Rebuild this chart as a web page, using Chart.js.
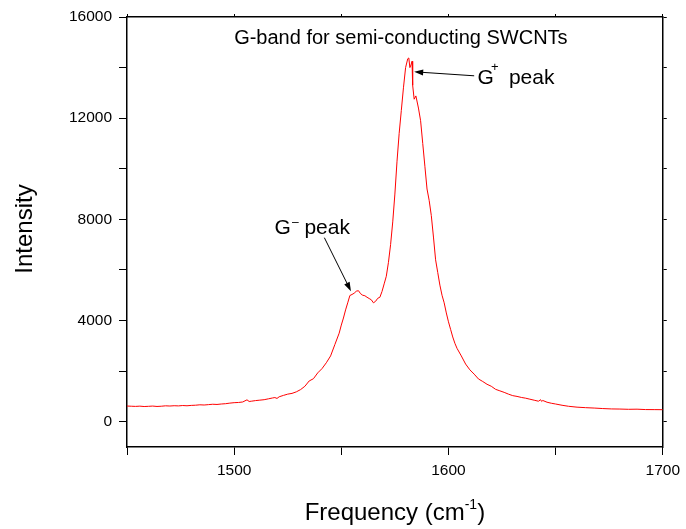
<!DOCTYPE html>
<html lang="en">
<head>
  <meta charset="UTF-8" />
  <title>G-band for semi-conducting SWCNTs</title>
  <script src="https://cdn.jsdelivr.net/npm/chart.js"></script>
  <style>
    html, body { margin: 0; padding: 0; background: #fff; }
    canvas { display: block; }
  </style>
</head>
<body>
  <canvas id="ramanChart" width="686" height="529"></canvas>

  <script>
    // Raman spectrum, G-band region
    const frequency = [
      1450, 1452, 1454, 1456, 1458, 1460, 1462, 1464, 1466, 1468,
      1470, 1472, 1474, 1476, 1478, 1480, 1482, 1484, 1486, 1488,
      1490, 1492, 1494, 1496, 1498, 1500, 1502, 1504, 1506, 1507,
      1508, 1510, 1512, 1514, 1516, 1518, 1519, 1520, 1521, 1523,
      1525, 1527, 1529, 1531, 1533, 1535, 1537, 1539, 1541, 1543,
      1545, 1547, 1549, 1550, 1551, 1552, 1553, 1554, 1555, 1556,
      1557, 1558, 1559, 1560, 1561, 1562, 1563, 1564, 1565, 1566,
      1567, 1568, 1569, 1570, 1571, 1572, 1573, 1574, 1575, 1576,
      1577, 1578, 1579, 1580, 1581, 1581.5, 1582, 1582.5, 1583, 1583.3,
      1584, 1584.8, 1586, 1587, 1588, 1589, 1590, 1591, 1592, 1593,
      1594, 1595, 1596, 1597, 1598, 1599, 1600, 1601, 1602, 1603,
      1604, 1606, 1608, 1610, 1612, 1614, 1616, 1618, 1620, 1622,
      1624, 1626, 1628, 1630, 1632, 1634, 1636, 1638, 1640, 1642,
      1643, 1643.5, 1644, 1646, 1648, 1650, 1653, 1656, 1660, 1664,
      1668, 1672, 1676, 1680, 1684, 1688, 1692, 1696, 1700
    ];
    const intensity = [
      620, 612, 605, 615, 600, 608, 618, 603, 612, 628,
      620, 632, 625, 640, 630, 645, 652, 668, 660, 675,
      690, 682, 700, 712, 735, 752, 760, 780, 865, 800,
      810, 835, 852, 870, 905, 940, 955, 920, 985, 1040,
      1090, 1120, 1180, 1270, 1400, 1610, 1700, 1930, 2100, 2330,
      2600, 3050, 3500, 3820, 4100, 4420, 4700, 4990, 5030, 5080,
      5160, 5180, 5060, 5000, 4980, 4920, 4870, 4820, 4700, 4760,
      4880, 4920, 5150, 5450, 5750, 6300, 7000, 7900, 9000, 10300,
      11400, 12300, 13200, 14000, 14350, 14380, 14000, 14100, 14250, 13300,
      12750, 12880, 12400, 11900, 11000, 10100, 9200, 8750, 8150, 7300,
      6400, 5900, 5400, 5000, 4700, 4300, 3950, 3650, 3350, 3100,
      2900, 2600, 2280, 2050, 1880, 1690, 1590, 1480, 1400, 1280,
      1220, 1160, 1090, 1030, 1000, 960, 930, 890, 850, 810,
      870, 800, 840, 770, 730, 700, 650, 610, 575, 555,
      540, 520, 505, 500, 490, 495, 480, 478, 475
    ];

    const xTickValues = [1450, 1500, 1550, 1600, 1650, 1700];
    const xLabelTicks = [1500, 1600, 1700];
    const yTickValues = [0, 2000, 4000, 6000, 8000, 10000, 12000, 14000, 16000];
    const yLabelTicks = [0, 4000, 8000, 12000, 16000];

    const FONT = "'Liberation Sans', Arial, sans-serif";

    const setXTicks = scale => { scale.ticks = xTickValues.map(v => ({ value: v })); };
    const setYTicks = scale => { scale.ticks = yTickValues.map(v => ({ value: v })); };

    function arrow(ctx, x1, y1, x2, y2) {
      const ang = Math.atan2(y2 - y1, x2 - x1);
      const len = 9, half = 3;
      ctx.beginPath();
      ctx.moveTo(x1, y1);
      ctx.lineTo(x2 - Math.cos(ang) * len * 0.8, y2 - Math.sin(ang) * len * 0.8);
      ctx.stroke();
      ctx.beginPath();
      ctx.moveTo(x2, y2);
      ctx.lineTo(x2 - Math.cos(ang) * len - Math.sin(ang) * half, y2 - Math.sin(ang) * len + Math.cos(ang) * half);
      ctx.lineTo(x2 - Math.cos(ang) * len + Math.sin(ang) * half, y2 - Math.sin(ang) * len - Math.cos(ang) * half);
      ctx.closePath();
      ctx.fill();
    }

    const labelsPlugin = {
      id: 'labels',
      afterDraw(chart) {
        const ctx = chart.ctx;
        const xs = chart.scales.x, ys = chart.scales.y;
        const px = v => xs.getPixelForValue(v);
        const py = v => ys.getPixelForValue(v);
        const area = chart.chartArea;

        ctx.save();
        ctx.fillStyle = '#000';
        ctx.strokeStyle = '#000';
        ctx.lineWidth = 1;
        ctx.textBaseline = 'alphabetic';
        ctx.textAlign = 'left';

        // title inside the frame
        ctx.font = '20px ' + FONT;
        ctx.fillText('G-band for semi-conducting SWCNTs', px(1500), py(14930));

        // G+ peak
        let x0 = px(1613.5), y0 = py(13347);
        ctx.font = '21px ' + FONT;
        ctx.fillText('G', x0, y0);
        ctx.font = '13px ' + FONT;
        ctx.fillText('+', x0 + 13.5, y0 - 13);
        ctx.font = '21px ' + FONT;
        ctx.fillText('peak', x0 + 31.5, y0);
        arrow(ctx, px(1612), py(13675), px(1584), py(13834));

        // G- peak
        x0 = px(1518.8); y0 = py(7406);
        ctx.font = '21px ' + FONT;
        ctx.fillText('G', x0, y0);
        ctx.font = '12px ' + FONT;
        ctx.fillText('\u2013', x0 + 17.5, y0 - 8);
        ctx.font = '21px ' + FONT;
        ctx.fillText('peak', x0 + 30, y0);
        arrow(ctx, px(1542.1), py(7275), px(1554.5), py(5160));

        // axis titles
        const main = 'Frequency (cm';
        ctx.font = '24px ' + FONT;
        const wMain = ctx.measureText(main).width;
        ctx.font = '14px ' + FONT;
        const wSup = ctx.measureText('-1').width;
        ctx.font = '24px ' + FONT;
        const wEnd = ctx.measureText(')').width;
        const total = wMain + wSup + wEnd;
        const tx = (area.left + area.right) / 2 - total / 2;
        const ty = 520;
        ctx.fillText(main, tx, ty);
        ctx.font = '14px ' + FONT;
        ctx.fillText('-1', tx + wMain, ty - 11);
        ctx.font = '24px ' + FONT;
        ctx.fillText(')', tx + wMain + wSup, ty);

        ctx.translate(32, 229);
        ctx.rotate(-Math.PI / 2);
        ctx.textAlign = 'center';
        ctx.fillText('Intensity', 0, 0);
        ctx.restore();
      }
    };

    const tickFont = { family: FONT, size: 15.5 };

    new Chart(document.getElementById('ramanChart'), {
      type: 'line',
      data: {
        datasets: [{
          label: 'G-band',
          data: frequency.map((f, i) => ({ x: f, y: intensity[i] })),
          borderColor: '#ff0000',
          borderWidth: 1,
          pointRadius: 0,
          tension: 0,
          fill: false
        }]
      },
      options: {
        responsive: false,
        animation: false,
        layout: { padding: 0 },
        plugins: {
          legend: { display: false },
          tooltip: { enabled: false }
        },
        scales: {
          x: {
            type: 'linear',
            position: 'bottom',
            min: 1450,
            max: 1700,
            afterFit: s => { s.height = 82; },
            afterBuildTicks: setXTicks,
            ticks: {
              color: '#000',
              font: tickFont,
              padding: 6,
              maxRotation: 0,
              autoSkip: false,
              callback: v => xLabelTicks.includes(v) ? String(v) : ''
            },
            grid: { drawOnChartArea: false, color: '#000', tickLength: 8, lineWidth: 1 },
            border: { display: true, color: '#000', width: 1.5 }
          },
          x2: {
            type: 'linear',
            position: 'top',
            min: 1450,
            max: 1700,
            afterFit: s => { s.height = 17; },
            afterBuildTicks: setXTicks,
            ticks: { display: false },
            grid: { drawOnChartArea: false, color: '#000', tickLength: 3, lineWidth: 1 },
            border: { display: true, color: '#000', width: 1.5 }
          },
          y: {
            type: 'linear',
            position: 'left',
            min: -1000,
            max: 16000,
            afterFit: s => { s.width = 127; },
            afterBuildTicks: setYTicks,
            ticks: {
              color: '#000',
              font: tickFont,
              padding: 7,
              autoSkip: false,
              callback: v => yLabelTicks.includes(v) ? String(v) : ''
            },
            grid: { drawOnChartArea: false, color: '#000', tickLength: 8, lineWidth: 1 },
            border: { display: true, color: '#000', width: 1.5 }
          },
          y2: {
            type: 'linear',
            position: 'right',
            min: -1000,
            max: 16000,
            afterFit: s => { s.width = 22; },
            afterBuildTicks: setYTicks,
            ticks: { display: false },
            grid: { drawOnChartArea: false, color: '#000', tickLength: 4, lineWidth: 1 },
            border: { display: true, color: '#000', width: 1.5 }
          }
        }
      },
      plugins: [labelsPlugin]
    });
  </script>
</body>
</html>
